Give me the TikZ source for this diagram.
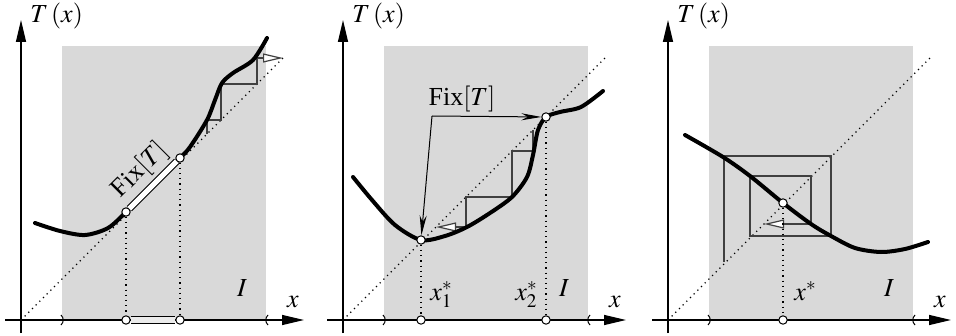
\documentclass[tikz,border=0pt]{standalone}
\usepackage{mathptmx}
\usepackage{fontspec}
\setmainfont{Liberation Serif}
\usetikzlibrary{arrows.meta, positioning}

\tikzset{
  lbl/.style={font=\fontsize{13}{15}\selectfont, inner sep=1pt},
  axis/.style={line width=0.7pt, -{Triangle[length=11pt,width=5pt]}},
  diag/.style={dotted, line width=0.6pt},
  drop/.style={dotted, line width=0.6pt},
  paren/.style={line width=0.5pt},
  graph/.style={line width=2pt, line cap=round},
  web/.style={line width=0.6pt, black!75},
  webtip/.style={web, -{Triangle[length=10pt,width=4.5pt,fill=white]}},
  fixpt/.style={circle, draw, fill=white, line width=0.5pt, minimum size=4.2pt, inner sep=0pt},
  fixbar/.style={line width=0.5pt, double=white, double distance=2.6pt},
  fixbarx/.style={fixbar, double=black!8},
  fixarrow/.style={line width=0.5pt, -{Stealth[length=10pt,width=3.5pt]}}
}

\begin{document}
\begin{tikzpicture}[x=0.5pt, y=-0.5pt]
\useasboundingbox (0,0) rectangle (956,336);

% Frames: interval I, axes, diagonal T(x)=x
\foreach \ox/\p in {21/a, 343/b, 668/c} {
  \fill[black!15] (\ox+41,46) rectangle (\ox+245,320);
  \draw[diag] (\ox,320) -- (\ox+262,58);
  \draw[axis] (\ox-16,320) -- (\ox+283,320);
  \draw[axis] (\ox,333) -- (\ox,20);
  \draw[paren] (\ox+40,315) .. controls (\ox+43,318) and (\ox+43,322) .. (\ox+40,325);
  \draw[paren] (\ox+247,315) .. controls (\ox+244,318) and (\ox+244,322) .. (\ox+247,325);
  \node[lbl, anchor=base west] (T-\p) at (\ox+7,23) {$T\,(x)$};
  \node[lbl, anchor=base] (x-\p) at (\ox+272,307) {$x$};
  \node[lbl, anchor=base] (I-\p) at (\ox+221,296) {$I$};
}

% Left: interval of fixed points, diverging iterates
\draw[webtip] (207,134) -- (207,120) -- (221,120) -- (221,84) -- (257,84) -- (257,58) -- (283,58);
\draw[graph] plot[smooth] coordinates {(35,223) (60,231) (85,235) (108,228) (126,212)
  (153,185) (180,158) (190,147) (207,120) (215,100) (222,83) (233,73) (253,60) (267,38)};
\node[fixpt] (a1) at (126,212) {};
\node[fixpt] (a2) at (180,158) {};
\node[fixpt] (a1x) at (126,320) {};
\node[fixpt] (a2x) at (180,320) {};
\draw[drop] (a1) -- (a1x);
\draw[drop] (a2) -- (a2x);
\draw[fixbar] (a1) -- (a2);
\draw[fixbarx] (a1x) -- (a2x);
\node[lbl, rotate=45] (fix-a) at (140,170) {Fix$[T]$};

% Middle: two isolated fixed points
\draw[webtip] (533,130) -- (533,151) -- (512,151) -- (512,197) -- (466,197) -- (466,227) -- (436,227);
\draw[graph] plot[smooth] coordinates {(353,177) (372,200) (395,225) (421,240) (445,236)
  (467,227) (490,213) (512,197) (527,177) (533,155) (538,130) (546,117) (560,112) (581,107) (603,91)};
\node[fixpt] (b1) at (421,240) {};
\node[fixpt] (b2) at (546,117) {};
\node[fixpt] (b1x) at (421,320) {};
\node[fixpt] (b2x) at (546,320) {};
\draw[drop] (b1) -- (b1x);
\draw[drop] (b2) -- (b2x);
\node[lbl, anchor=base] (fix-b) at (462,106) {Fix$[T]$};
\coordinate (fix-corner) at (432,116);
\draw[fixarrow] (fix-corner) -- (b2);
\draw[fixarrow] (fix-corner) -- (b1);
\node[lbl, anchor=base west] (x1) at (428,300) {$x_1^*$};
\node[lbl, anchor=base west] (x2) at (513,300) {$x_2^*$};

% Right: decreasing map, spiral towards x*
\draw[webtip] (724,262) -- (724,156) -- (831,156) -- (831,236) -- (750,236) -- (750,176)
  -- (811,176) -- (811,224) -- (764,224);
\draw[graph] plot[smooth] coordinates {(685,135) (723,157) (750,176) (783,203) (811,224)
  (831,236) (855,248) (881,252) (905,249) (928,242)};
\node[fixpt] (c1) at (783,203) {};
\node[fixpt] (c1x) at (783,320) {};
\draw[drop] (c1) -- (c1x);
\node[lbl, anchor=base west] (xs) at (792,300) {$x^*$};
\end{tikzpicture}
\end{document}
